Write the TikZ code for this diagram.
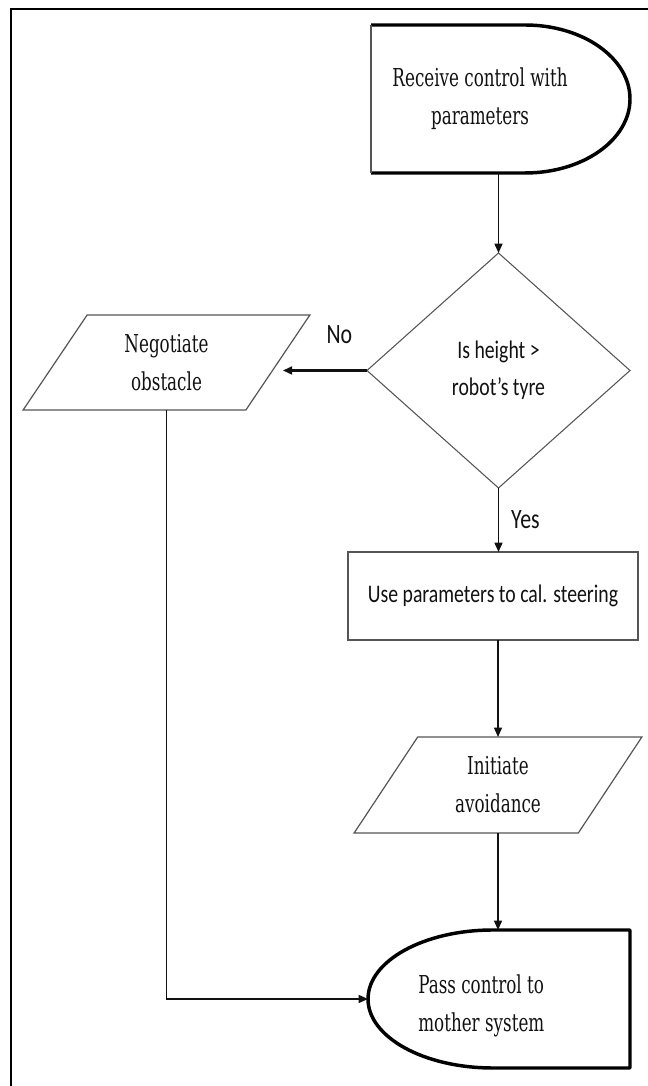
\documentclass[tikz,border=0pt]{standalone}
\usepackage{fontspec}
\usepackage{tikz}
\usetikzlibrary{positioning,shapes.geometric,arrows.meta,calc}
\newfontfamily\slabfont[FakeStretch=0.68]{DejaVu Serif}
\newfontfamily\calfont[FakeStretch=0.78]{Carlito}
\definecolor{ink}     {HTML}{111111}
\definecolor{outline} {HTML}{555555}
\tikzset{
  >={Triangle[length=7pt,width=6pt]},
  % --- nodes
  txt/.style     = {align=center, inner sep=0pt, text=ink,
                    font=\slabfont\fontsize{18.5}{28.5}\selectfont},
  txtsans/.style = {txt, font=\calfont\fontsize{19}{28}\selectfont},
  hold/.style    = {rectangle, inner sep=0pt, outer sep=0pt},
  io/.style      = {trapezium, trapezium stretches=true, trapezium left angle=59,
                    trapezium right angle=121, draw=outline, line width=0.9pt,
                    outer sep=0pt, txt},
  proc/.style    = {rectangle, draw=outline, line width=0.9pt, outer sep=0pt, txtsans},
  decide/.style  = {diamond, draw=outline, line width=0.8pt, outer sep=0pt, txtsans},
  lbl/.style     = {font=\calfont\fontsize{21}{24}\selectfont, text=ink, inner sep=0pt},
  % --- edges
  e/.style        = {->, line width=1.1pt, draw=ink},
  ethick/.style   = {e, line width=1.6pt},
  termline/.style = {draw=black, line width=2.6pt, line join=round},
  pageframe/.style= {draw=black, line width=1.6pt},
}
\begin{document}
\begin{tikzpicture}[x=0.75pt,y=0.75pt]
  \useasboundingbox (0,0) rectangle (648,1086);
  \draw[pageframe] (11,0) -- (11,1077) -- (648,1077);
  % terminals
  \node[hold, minimum width=194.25pt, minimum height=111pt] (start) at (500.5,987) {};
  \draw[termline] (start.north west) -- ++(154,0)
    arc[start angle=90, end angle=-90, x radius=78.75pt, y radius=55.5pt] -- (start.south west);
  \draw[draw=outline, line width=0.9pt] (start.south west) -- (start.north west);
  \node[txt] (starttxt) at (480,987) {Receive control with\\parameters};
  \node[hold, minimum width=196.5pt, minimum height=103.5pt] (stop) at (499,87) {};
  \draw[termline] (stop.north east) -- ++(-137,0)
    arc[start angle=90, end angle=270, x radius=93.75pt, y radius=51.75pt] -- (stop.south east) -- cycle;
  \node[txt, anchor=west, align=left] (stoptxt) at (418,80) {Pass control to\\mother system};
  % steps
  \node[decide, minimum width=197.25pt, minimum height=176.25pt] (check) at (498.5,715.5)
    {Is height >\\robot’s tyre};
  \node[io, minimum width=215.25pt, minimum height=71.25pt] (negotiate) at (166.5,723.5)
    {Negotiate\\obstacle};
  \node[proc, minimum width=217.5pt, minimum height=66pt] (steer) at (493,490)
    {Use parameters to cal. steering};
  \node[io, minimum width=216pt, minimum height=72pt] (avoid) at (498,301)
    {Initiate\\avoidance};
  % edges
  \draw[e] (check.north |- start.south) -- (check.north);
  \draw[ethick, shorten >=3.75pt] (check.west) -- (check.west -| negotiate.east)
    node[lbl, pos=0.31, above=19pt] (no) {No};
  \draw[e] (check.south) -- (check.south |- steer.north)
    node[lbl, midway, right=9pt] (yes) {Yes};
  \draw[e] (avoid.north |- steer.south) -- (avoid.north);
  \draw[e] (avoid.south) -- (avoid.south |- stop.north);
  \draw[e] (negotiate.south) |- (stop.west);
\end{tikzpicture}
\end{document}
